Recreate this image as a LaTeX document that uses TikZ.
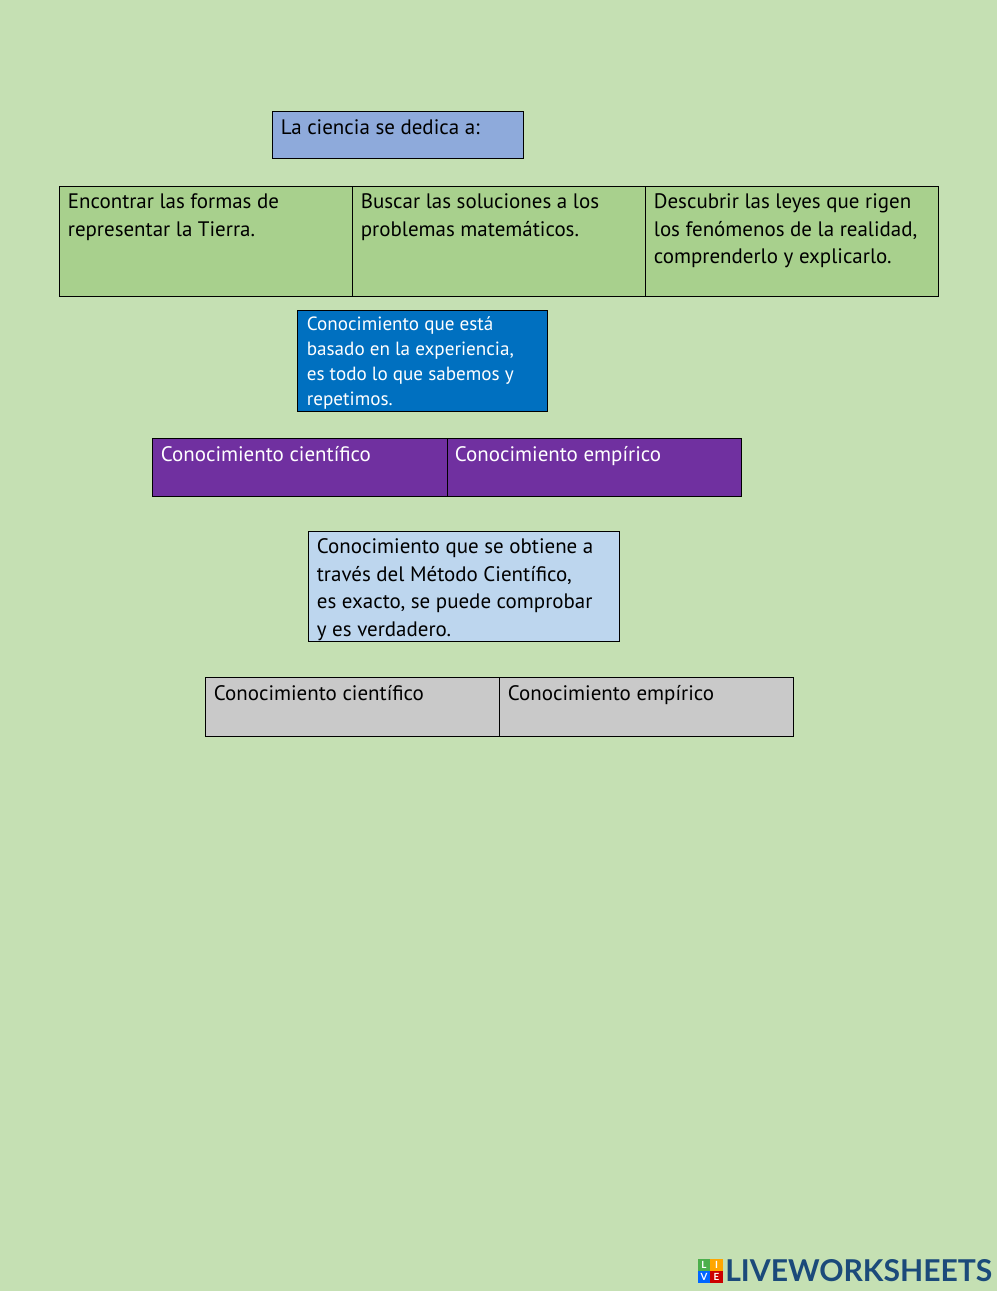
\documentclass[tikz,border=0pt]{standalone}
\usepackage{fontspec}
\setmainfont{PT Sans}
\newfontfamily\logofont{Lato}
\usetikzlibrary{positioning}
\definecolor{pagegreen}{HTML}{C5E0B3}
\definecolor{headblue}{HTML}{8EAADB}
\definecolor{rowgreen}{HTML}{A8D08D}
\definecolor{deepblue}{HTML}{0070C0}
\definecolor{rowpurple}{HTML}{7030A0}
\definecolor{paleblue}{HTML}{BDD6EE}
\definecolor{rowgray}{HTML}{C9C9C9}
\definecolor{logoblue}{HTML}{1B4A7A}
\tikzset{
	cellbox/.style={draw=black, line width=0.4pt, inner sep=0pt, anchor=north west},
	celltext/.style={anchor=north west, inner sep=0pt, align=left, font=\fontsize{14.9}{19.5}\selectfont},
	smalltext/.style={anchor=north west, inner sep=0pt, align=left, text=white, font=\fontsize{13.6}{17.7}\selectfont},
	logosquare/.style={minimum size=0.31cm, inner sep=0pt, text=white, font=\logofont\bfseries\fontsize{7}{8}\selectfont}
}
\begin{document}
\begin{tikzpicture}[x=0.025cm,y=-0.025cm]

	\fill[white] (0,0) rectangle (1000,1291);
	\fill[pagegreen] (0,0) rectangle (997,1291);
	\useasboundingbox (0,0) rectangle (1000,1291);

	\begin{scope}[shift={(-0.4,-0.4)}]
	% heading
	\node[cellbox, fill=headblue, minimum width=6.275cm, minimum height=1.19cm] (headbox) at (272,111) {};
	\node[celltext] (headtext) at (281,120) {La ciencia se dedica a:};

	% three options
	\begin{scope}
		\node[cellbox, fill=rowgreen, minimum width=7.325cm, minimum height=2.76cm] (optA) at (59,186) {};
		\node[cellbox, fill=rowgreen, minimum width=7.325cm, minimum height=2.76cm] (optB) at (352,186) {};
		\node[cellbox, fill=rowgreen, minimum width=7.325cm, minimum height=2.76cm] (optC) at (645,186) {};
		\node[celltext] (optAtext) at (68,194) {Encontrar las formas de\\representar la Tierra.};
		\node[celltext] (optBtext) at (361,194) {Buscar las soluciones a los\\problemas matemáticos.};
		\node[celltext] (optCtext) at (654,194) {Descubrir las leyes que rigen\\los fenómenos de la realidad,\\comprenderlo y explicarlo.};
	\end{scope}

	% empirical definition
	\node[cellbox, fill=deepblue, minimum width=6.25cm, minimum height=2.54cm] (empbox) at (297,310) {};
	\node[smalltext] (emptext) at (307,317) {Conocimiento que está\\basado en la experiencia,\\es todo lo que sabemos y\\repetimos.};

	% first pair
	\begin{scope}
		\node[cellbox, fill=rowpurple, minimum width=7.375cm, minimum height=1.465cm] (purpleA) at (152,438) {};
		\node[cellbox, fill=rowpurple, minimum width=7.35cm, minimum height=1.465cm] (purpleB) at (447,438) {};
		\node[celltext, text=white] (purpleAtext) at (161,447) {Conocimiento científico};
		\node[celltext, text=white] (purpleBtext) at (455,447) {Conocimiento empírico};
	\end{scope}

	% scientific definition
	\node[cellbox, fill=paleblue, minimum width=7.775cm, minimum height=2.76cm] (scibox) at (308,531) {};
	\node[celltext] (scitext) at (317,539) {Conocimiento que se obtiene a\\través del Método Científico,\\es exacto, se puede comprobar\\y es verdadero.};

	% second pair
	\begin{scope}
		\node[cellbox, fill=rowgray, minimum width=7.35cm, minimum height=1.48cm] (grayA) at (205,677) {};
		\node[cellbox, fill=rowgray, minimum width=7.35cm, minimum height=1.48cm] (grayB) at (499,677) {};
		\node[celltext] (grayAtext) at (214,686) {Conocimiento científico};
		\node[celltext] (grayBtext) at (508,686) {Conocimiento empírico};
	\end{scope}
	\end{scope}

	% logo
	\node[logosquare, fill=green!55!black!70] (logoL) at (704,1265) {L};
	\node[logosquare, fill=orange!70!yellow] (logoI) at (716.5,1265) {I};
	\node[logosquare, fill=blue!60!cyan] (logoV) at (704,1277) {V};
	\node[logosquare, fill=red!80!black] (logoE) at (716.5,1277) {E};
	\node[anchor=west, inner sep=0pt, text=logoblue, font=\logofont\bfseries\fontsize{21.4}{24}\selectfont] (logotext) at (725,1271) {LIVEWORKSHEETS};

\end{tikzpicture}
\end{document}
